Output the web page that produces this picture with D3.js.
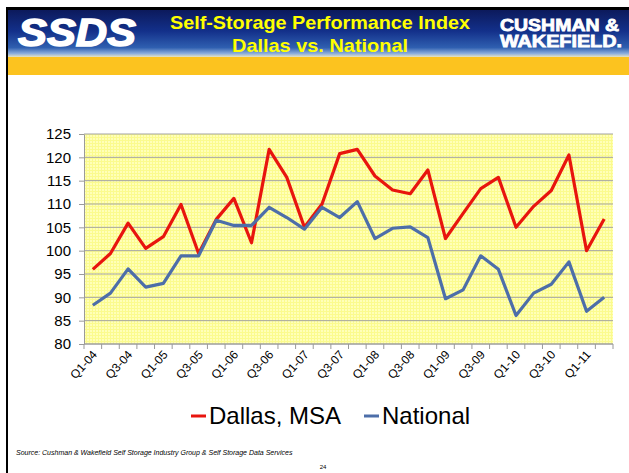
<!DOCTYPE html>
<html>
<head>
<meta charset="utf-8">
<script src="https://cdn.jsdelivr.net/npm/d3@7"></script>
<style>
  body { margin: 0; background: #fff; }
  svg { display: block; font-family: Arial, "Liberation Sans", sans-serif; }
</style>
</head>
<body>
<div class="svg-container"></div>
<script>
// quarters Q1-04 .. Q2-11
var quarters = ["Q1-04","Q2-04","Q3-04","Q4-04","Q1-05","Q2-05","Q3-05","Q4-05",
                "Q1-06","Q2-06","Q3-06","Q4-06","Q1-07","Q2-07","Q3-07","Q4-07",
                "Q1-08","Q2-08","Q3-08","Q4-08","Q1-09","Q2-09","Q3-09","Q4-09",
                "Q1-10","Q2-10","Q3-10","Q4-10","Q1-11","Q2-11"];
var dallas = [96.0, 99.4, 105.9, 100.5, 103.0, 109.9, 99.4, 106.7,
              111.2, 101.7, 121.7, 115.7, 105.0, 110.0, 120.8, 121.7,
              116.0, 113.0, 112.2, 117.3, 102.6, 108.0, 113.3, 115.7,
              105.0, 109.5, 112.9, 120.5, 100.0, 106.8];
var national = [88.3, 90.9, 96.1, 92.2, 93.0, 98.9, 98.9, 106.5,
                105.4, 105.4, 109.3, 107.1, 104.6, 109.3, 107.1, 110.5,
                102.6, 104.8, 105.1, 102.8, 89.7, 91.6, 98.9, 96.0,
                86.1, 90.9, 92.8, 97.6, 87.0, 90.0];
var yTicks = [80, 85, 90, 95, 100, 105, 110, 115, 120, 125];
var seriesNames = ["Dallas, MSA", "National"];
var seriesColors = ["#e8150e", "#4d6ea9"];

var svg = d3.select(".svg-container").append("svg")
    .attr("width", 629)
    .attr("height", 473);

var defs = svg.append("defs");

// header gradient
var grad = defs.append("linearGradient").attr("id", "hdr")
    .attr("x1", 0).attr("y1", 0).attr("x2", 0).attr("y2", 1);
grad.append("stop").attr("offset", "0%").attr("stop-color", "#0c1a5c");
grad.append("stop").attr("offset", "45%").attr("stop-color", "#13308a");
grad.append("stop").attr("offset", "80%").attr("stop-color", "#2f5fb0");
grad.append("stop").attr("offset", "93%").attr("stop-color", "#8fb0dc");
grad.append("stop").attr("offset", "100%").attr("stop-color", "#e8e4c0");

// dotted yellow fill of the plot area
var pat = defs.append("pattern").attr("id", "dots")
    .attr("width", 3).attr("height", 3)
    .attr("patternUnits", "userSpaceOnUse");
pat.append("rect").attr("width", 3).attr("height", 3).attr("fill", "#fbfb8e");
pat.append("rect").attr("width", 2).attr("height", 2).attr("fill", "#ffffb8");

// slide frame
svg.append("rect").attr("x", 6).attr("y", 7).attr("width", 623).attr("height", 3).attr("fill", "#000");
svg.append("rect").attr("x", 6).attr("y", 7).attr("width", 2).attr("height", 466).attr("fill", "#000");
svg.append("rect").attr("x", 8).attr("y", 10).attr("width", 621).attr("height", 47).attr("fill", "url(#hdr)");
svg.append("rect").attr("x", 8).attr("y", 57).attr("width", 621).attr("height", 18).attr("fill", "#fcc31f");

// header texts
svg.append("text")
    .attr("x", 18).attr("y", 46)
    .attr("fill", "#fff")
    .attr("font-size", "38px")
    .attr("font-weight", "900")
    .attr("font-style", "italic")
    .attr("textLength", 118)
    .attr("lengthAdjust", "spacingAndGlyphs")
    .style("paint-order", "stroke")
    .attr("stroke", "#fff").attr("stroke-width", 1.5)
    .text("SSDS");

svg.append("text")
    .attr("x", 320).attr("y", 29)
    .attr("fill", "#ffff00")
    .attr("text-anchor", "middle")
    .attr("font-size", "19px")
    .attr("font-weight", "bold")
    .attr("textLength", 300)
    .attr("lengthAdjust", "spacingAndGlyphs")
    .text("Self-Storage Performance Index");
svg.append("text")
    .attr("x", 320).attr("y", 52)
    .attr("fill", "#ffff00")
    .attr("text-anchor", "middle")
    .attr("font-size", "19px")
    .attr("font-weight", "bold")
    .attr("textLength", 176)
    .attr("lengthAdjust", "spacingAndGlyphs")
    .text("Dallas vs. National");

svg.append("text")
    .attr("x", 500).attr("y", 31)
    .attr("fill", "#fff")
    .attr("font-size", "17px")
    .attr("font-weight", "900")
    .attr("textLength", 119)
    .attr("lengthAdjust", "spacingAndGlyphs")
    .style("paint-order", "stroke")
    .attr("stroke", "#fff").attr("stroke-width", 0.8)
    .text("CUSHMAN &");
svg.append("text")
    .attr("x", 500).attr("y", 47)
    .attr("fill", "#fff")
    .attr("font-size", "17px")
    .attr("font-weight", "900")
    .attr("textLength", 122)
    .attr("lengthAdjust", "spacingAndGlyphs")
    .style("paint-order", "stroke")
    .attr("stroke", "#fff").attr("stroke-width", 0.8)
    .text("WAKEFIELD.");

// chart
var plotLeft = 84, plotRight = 613, plotTop = 134, plotBottom = 344;
var x = d3.scaleBand().domain(quarters).range([plotLeft, plotRight]).padding(0);
var y = d3.scaleLinear().domain([80, 125]).range([plotBottom, plotTop]);

svg.append("rect")
    .attr("x", plotLeft).attr("y", plotTop)
    .attr("width", plotRight - plotLeft).attr("height", plotBottom - plotTop)
    .attr("fill", "url(#dots)");

// gridlines
svg.append("g").selectAll("line").data(yTicks).enter()
    .append("line")
    .attr("x1", plotLeft).attr("x2", plotRight)
    .attr("y1", function(d){ return y(d); })
    .attr("y2", function(d){ return y(d); })
    .attr("stroke", "#a3a3a3")
    .attr("stroke-width", 1);

// y axis
var yAxis = svg.append("g")
    .attr("transform", "translate(" + plotLeft + ",0)")
    .call(d3.axisLeft(y).tickValues(yTicks).tickSize(5).tickPadding(8).tickSizeOuter(0));
yAxis.select(".domain").attr("stroke", "#9a9a9a");
yAxis.selectAll(".tick line").attr("stroke", "#9a9a9a");
yAxis.selectAll("text")
    .attr("font-size", "15px")
    .attr("font-family", "Arial, 'Liberation Sans', sans-serif")
    .attr("fill", "#000");

// x axis ticks at band boundaries
var xAxis = svg.append("g")
    .attr("transform", "translate(0," + plotBottom + ")");
xAxis.append("line")
    .attr("x1", plotLeft).attr("x2", plotRight)
    .attr("stroke", "#9a9a9a");
xAxis.selectAll("line.tk").data(quarters.concat(["end"])).enter()
    .append("line").attr("class", "tk")
    .attr("x1", function(d){ return d == "end" ? plotRight : x(d); })
    .attr("x2", function(d){ return d == "end" ? plotRight : x(d); })
    .attr("y1", 0).attr("y2", 5)
    .attr("stroke", "#9a9a9a");

xAxis.selectAll("text").data(quarters.filter(function(d, i){ return i % 2 == 0; })).enter()
    .append("text")
    .attr("transform", function(d){
        return "translate(" + (x(d) + x.bandwidth() / 2 + 5) + ",11) rotate(-48)";
    })
    .attr("text-anchor", "end")
    .attr("font-size", "12px")
    .attr("fill", "#000")
    .text(function(d){ return d; });

// lines
var line = d3.line()
    .x(function(d, i){ return x(quarters[i]) + x.bandwidth() / 2; })
    .y(function(d){ return y(d); });

[dallas, national].forEach(function(s, k){
    svg.append("path")
        .datum(s)
        .attr("d", line)
        .attr("fill", "none")
        .attr("stroke", seriesColors[k])
        .attr("stroke-width", 3.2)
        .attr("stroke-linejoin", "round");
});

// legend
var legX = [191, 364];
seriesNames.forEach(function(n, k){
    svg.append("line")
        .attr("x1", legX[k]).attr("x2", legX[k] + 15)
        .attr("y1", 416).attr("y2", 416)
        .attr("stroke", seriesColors[k])
        .attr("stroke-width", 3);
    svg.append("text")
        .attr("x", legX[k] + 18).attr("y", 424)
        .attr("font-size", "24px")
        .attr("fill", "#000")
        .text(n);
});

// footer
svg.append("text")
    .attr("x", 16).attr("y", 455)
    .attr("font-size", "7px")
    .attr("font-style", "italic")
    .attr("fill", "#000")
    .text("Source: Cushman & Wakefield Self Storage Industry Group & Self Storage Data Services");
svg.append("text")
    .attr("x", 323).attr("y", 469)
    .attr("text-anchor", "middle")
    .attr("font-size", "6px")
    .attr("fill", "#000")
    .text("24");
</script>
</body>
</html>
